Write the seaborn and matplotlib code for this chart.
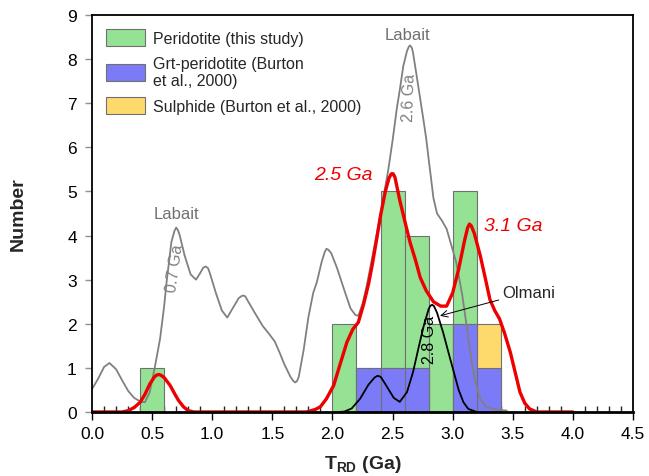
import numpy as np
import pandas as pd
import matplotlib
matplotlib.use('Agg')
import matplotlib.pyplot as plt
from matplotlib.patches import Patch
from matplotlib.ticker import MultipleLocator
import seaborn as sns

# Histogram bins (left edges, width 0.2 Ga) and counts per source
bin_left = [0.4, 2.0, 2.2, 2.4, 2.6, 2.8, 3.0, 3.2]
peridotite_counts = [1, 2, 0, 5, 4, 2, 5, 0]
grt_counts = [0, 0, 1, 1, 1, 0, 2, 1]
sulphide_counts = [0, 0, 0, 0, 0, 0, 0, 1]

# Probability curves
labait_x = [0.00, 0.05, 0.10, 0.145, 0.20, 0.25, 0.30, 0.35, 0.40, 0.44, 0.48, 0.52,
            0.566, 0.60, 0.62, 0.66, 0.685, 0.70, 0.715, 0.73, 0.77, 0.82, 0.865, 0.90,
            0.925, 0.945, 0.965, 0.98, 1.03, 1.08, 1.125, 1.17, 1.22, 1.245, 1.26, 1.275,
            1.30, 1.36, 1.42, 1.47, 1.52, 1.56, 1.60, 1.65, 1.675, 1.69, 1.705, 1.72,
            1.76, 1.80, 1.84, 1.87, 1.91, 1.935, 1.95, 1.965, 1.99, 2.04, 2.10, 2.15,
            2.19, 2.215, 2.25, 2.285, 2.32, 2.355, 2.39, 2.42, 2.465, 2.50, 2.535, 2.56,
            2.59, 2.62, 2.635, 2.646, 2.66, 2.67, 2.70, 2.73, 2.756, 2.78, 2.80, 2.82,
            2.84, 2.87, 2.91, 2.95, 2.99, 3.03, 3.08, 3.12, 3.16, 3.19, 3.23, 3.28,
            3.35, 3.45]
labait_y = [0.52, 0.75, 1.02, 1.11, 0.97, 0.72, 0.48, 0.32, 0.24, 0.22, 0.45, 0.98,
            1.66, 2.40, 2.94, 3.85, 4.10, 4.18, 4.12, 4.00, 3.55, 3.12, 3.00, 3.15,
            3.27, 3.30, 3.26, 3.15, 2.70, 2.30, 2.14, 2.35, 2.58, 2.63, 2.64, 2.62,
            2.50, 2.22, 1.95, 1.78, 1.60, 1.35, 1.08, 0.80, 0.70, 0.67, 0.70, 0.80,
            1.40, 2.15, 2.70, 2.94, 3.40, 3.62, 3.70, 3.68, 3.60, 3.25, 2.75, 2.35,
            2.20, 2.18, 2.45, 2.86, 3.35, 3.85, 4.35, 4.80, 5.50, 6.15, 6.87, 7.30,
            7.85, 8.18, 8.28, 8.31, 8.26, 8.15, 7.63, 7.10, 6.64, 6.20, 5.74, 5.30,
            4.85, 4.50, 4.34, 4.15, 3.77, 3.39, 2.65, 1.88, 1.10, 0.67, 0.30, 0.11,
            0.06, 0.03]

model_x = [0.00, 0.25, 0.30, 0.35, 0.40, 0.44, 0.48, 0.52, 0.54, 0.557, 0.575, 0.60,
           0.65, 0.69, 0.72, 0.76, 0.80, 0.85, 1.78, 1.81, 1.86, 1.90, 1.95, 2.01,
           2.06, 2.12, 2.17, 2.215, 2.26, 2.30, 2.33, 2.37, 2.40, 2.44, 2.47, 2.49,
           2.505, 2.52, 2.56, 2.60, 2.645, 2.69, 2.73, 2.78, 2.84, 2.90, 2.95, 3.00,
           3.05, 3.10, 3.125, 3.14, 3.155, 3.18, 3.23, 3.27, 3.31, 3.35, 3.39, 3.43,
           3.48, 3.52, 3.56, 3.60, 3.64, 3.70, 4.00]
model_y = [0.00, 0.00, 0.03, 0.10, 0.22, 0.40, 0.63, 0.80, 0.84, 0.85, 0.83, 0.78,
           0.60, 0.40, 0.26, 0.12, 0.03, 0.00, 0.00, 0.02, 0.06, 0.12, 0.30, 0.60,
           1.05, 1.58, 1.88, 2.03, 2.45, 2.90, 3.32, 3.95, 4.45, 5.00, 5.30, 5.40,
           5.40, 5.32, 4.80, 4.35, 3.85, 3.45, 3.05, 2.75, 2.50, 2.40, 2.40, 2.70,
           3.24, 3.90, 4.18, 4.26, 4.22, 4.05, 3.54, 3.05, 2.55, 2.30, 2.11, 1.80,
           1.35, 0.90, 0.45, 0.20, 0.07, 0.00, 0.00]

olmani_x = [2.05, 2.10, 2.16, 2.23, 2.30, 2.35, 2.375, 2.40, 2.42, 2.465, 2.51, 2.56,
            2.62, 2.67, 2.72, 2.76, 2.80, 2.815, 2.83, 2.845, 2.87, 2.92, 2.97, 3.01,
            3.05, 3.09, 3.13, 3.20]
olmani_y = [0.00, 0.01, 0.08, 0.30, 0.62, 0.78, 0.82, 0.80, 0.72, 0.52, 0.32, 0.23,
            0.45, 0.90, 1.50, 1.96, 2.33, 2.41, 2.43, 2.40, 2.25, 1.81, 1.30, 0.90,
            0.50, 0.22, 0.07, 0.00]

green = '#95e295'
blue = '#7b7bf7'
yellow = '#fed96c'
edge = '#707070'

sns.set_style('ticks')
plt.rcParams['font.family'] = ['Liberation Sans', 'DejaVu Sans']
plt.rcParams['mathtext.fontset'] = 'custom'
plt.rcParams['mathtext.rm'] = 'Liberation Sans'
plt.rcParams['mathtext.bf'] = 'Liberation Sans:bold'

bins = pd.DataFrame({
    'center': np.array(bin_left) + 0.1,
    'peridotite': peridotite_counts,
    'grt': grt_counts,
    'grt_sulphide': np.array(grt_counts) + np.array(sulphide_counts),
})

fig = plt.figure(figsize=(6.49, 4.77), dpi=100)
ax = fig.add_axes([0.1418, 0.1342, 0.8335, 0.8323])

hist_kw = dict(x='center', binwidth=0.2, binrange=(0.4, 3.4), stat='count', alpha=1,
               edgecolor=edge, linewidth=0.8, ax=ax)
sns.histplot(data=bins, weights='peridotite', color=green, **hist_kw)
sns.histplot(data=bins, weights='grt_sulphide', color=yellow, **hist_kw)
sns.histplot(data=bins, weights='grt', color=blue, **hist_kw)

sns.lineplot(x=labait_x, y=labait_y, color='#808080', linewidth=1.3, sort=False,
             estimator=None, ax=ax)
sns.lineplot(x=olmani_x, y=olmani_y, color='black', linewidth=1.3, sort=False,
             estimator=None, ax=ax)
sns.lineplot(x=model_x, y=model_y, color='#ee0000', linewidth=2.4, sort=False,
             estimator=None, ax=ax)

# Annotations
ax.text(0.70, 4.49, 'Labait', color='#707070', fontsize=12, ha='center', va='center')
ax.text(0.69, 3.28, '0.7 Ga', color='#808080', fontsize=11.5, ha='center', va='center',
        rotation=82)
ax.text(2.62, 8.55, 'Labait', color='#707070', fontsize=12, ha='center', va='center')
ax.text(2.64, 7.14, '2.6 Ga', color='#808080', fontsize=11.5, ha='center', va='center',
        rotation=88)
ax.text(2.09, 5.38, '2.5 Ga', color='#ee0000', fontsize=14, style='italic',
        ha='center', va='center')
ax.text(3.50, 4.22, '3.1 Ga', color='#ee0000', fontsize=14, style='italic',
        ha='center', va='center')
ax.text(2.81, 1.65, '2.8 Ga', color='black', fontsize=11.5, ha='center', va='center',
        rotation=90)
ax.annotate('Olmani', xy=(2.895, 2.18), xytext=(3.41, 2.72), fontsize=12,
            ha='left', va='center',
            arrowprops=dict(arrowstyle='->', color='black', lw=0.7, shrinkA=0, shrinkB=0))

ax.set_xlim(0, 4.5)
ax.set_ylim(0, 9)
ax.set_xticks(np.arange(0, 4.51, 0.5))
ax.set_xticklabels([f'{v:.1f}' for v in np.arange(0, 4.51, 0.5)])
ax.xaxis.set_minor_locator(MultipleLocator(0.1))
ax.set_yticks(range(0, 10))
ax.tick_params(axis='x', which='major', direction='out', length=6, width=1,
               labelsize=12.5, colors='black', pad=4)
ax.tick_params(axis='x', which='minor', direction='in', length=4, width=1)
ax.tick_params(axis='y', which='major', direction='out', length=5, width=1,
               color='#909090', labelsize=12.5, labelcolor='black', pad=6)

ax.set_xlabel(r'T$_{\mathbf{RD}}$ (Ga)', fontsize=14, fontweight='bold', labelpad=9)
ax.set_ylabel('Number', fontsize=14, fontweight='bold', labelpad=29)

for side in ['top', 'right', 'left']:
    ax.spines[side].set_visible(True)
    ax.spines[side].set_color('black')
    ax.spines[side].set_linewidth(1.3)
ax.spines['bottom'].set_color('black')
ax.spines['bottom'].set_linewidth(2)

handles = [
    Patch(facecolor=green, edgecolor=edge, linewidth=0.8),
    Patch(facecolor=blue, edgecolor=edge, linewidth=0.8),
    Patch(facecolor=yellow, edgecolor=edge, linewidth=0.8),
]
labels = ['Peridotite (this study)', 'Grt-peridotite (Burton\net al., 2000)',
          'Sulphide (Burton et al., 2000)']
ax.legend(handles, labels, loc='upper left', bbox_to_anchor=(0.0, 1.0), frameon=False,
          fontsize=11.5, handlelength=2.4, handleheight=1.2, handletextpad=0.5,
          labelspacing=0.6, borderaxespad=0.5)

fig.savefig('out.png', dpi=100)
